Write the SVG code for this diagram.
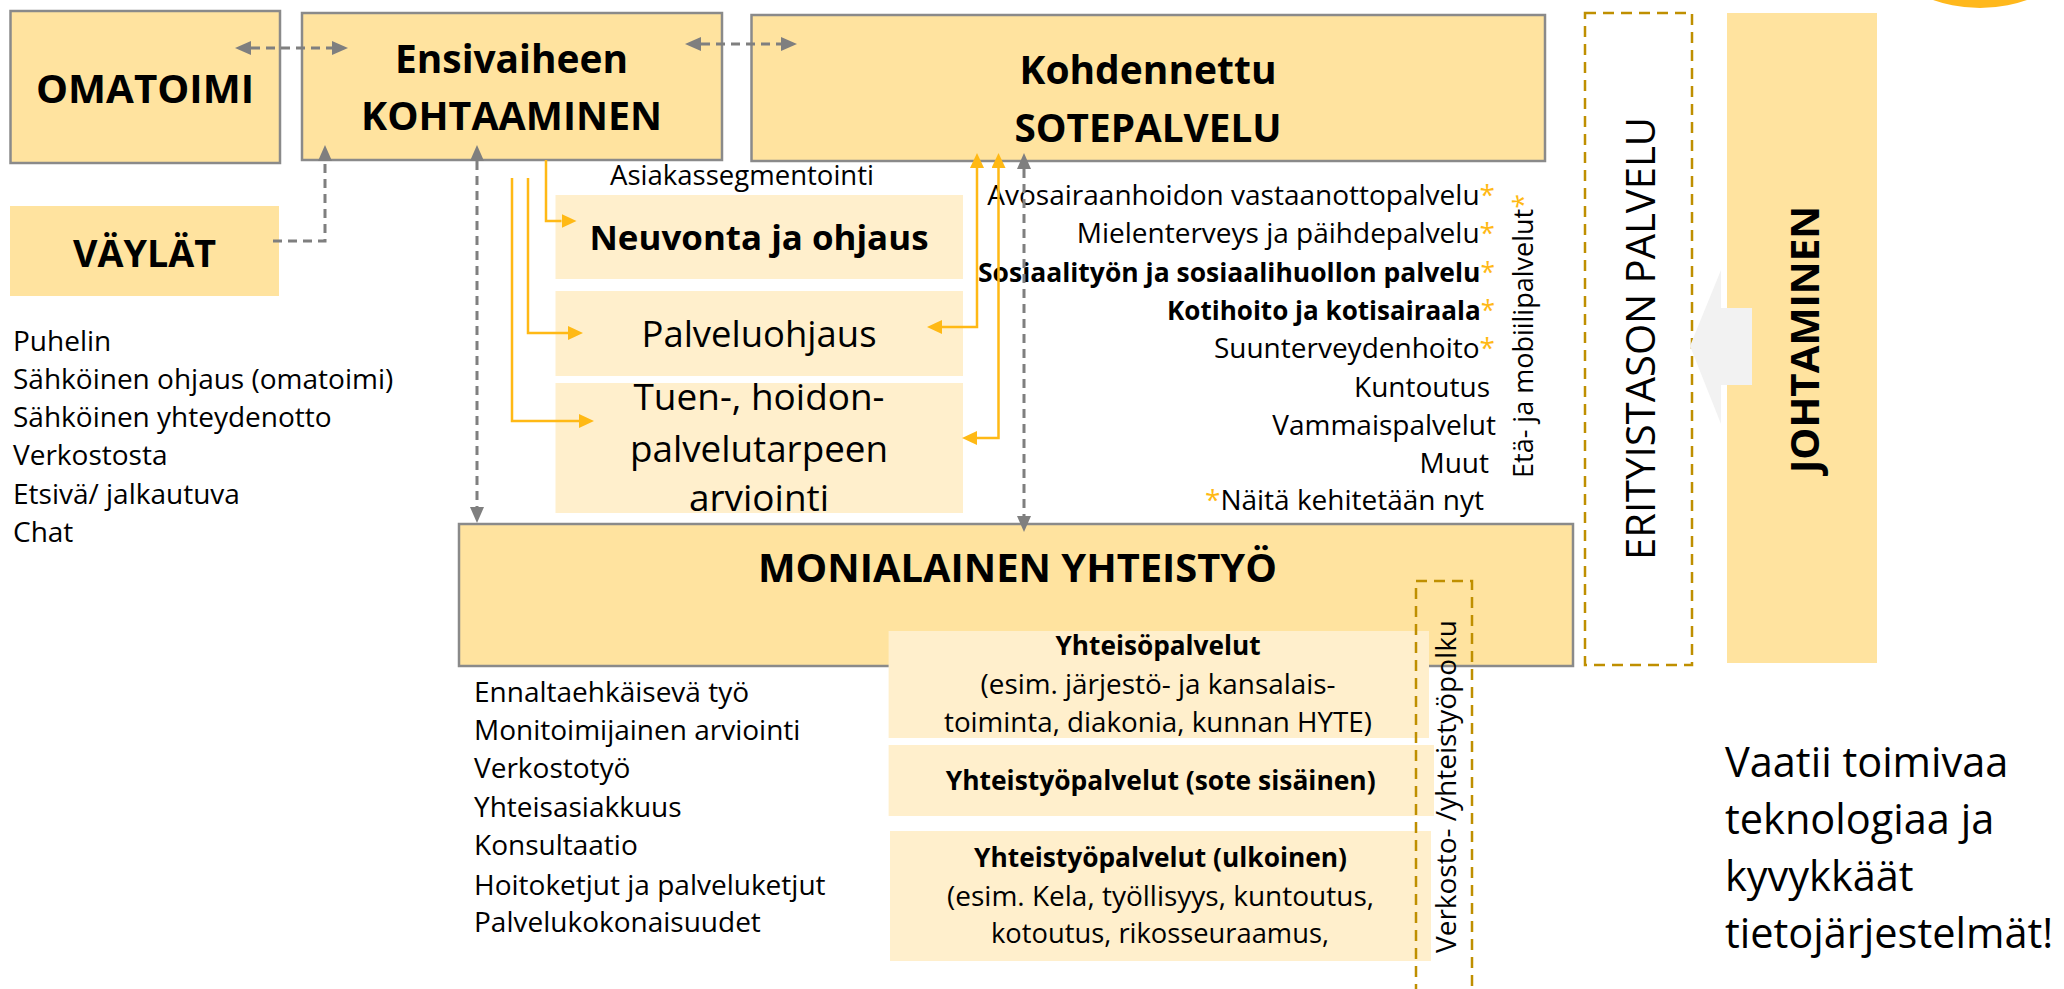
<svg xmlns="http://www.w3.org/2000/svg" width="2064" height="989" viewBox="0 0 2064 989">
<style>
text{font-family:'Open Sans','Liberation Sans',sans-serif;fill:#000}
.b{font-weight:700}
.mid{text-anchor:middle}
.end{text-anchor:end}
.main{fill:#FFE39F;stroke:#8A8A8A;stroke-width:2.5}
.plain{fill:#FFE39F}
.light{fill:#FFEFCC}
.gold{fill:none;stroke:#BF8F00;stroke-width:2.5;stroke-dasharray:11 7}
.gl{fill:none;stroke:#7F7F7F;stroke-width:3;stroke-dasharray:9 6}
.yl{fill:none;stroke:#FFB915;stroke-width:2.5}
.ast{fill:#FFB915}
.t28{font-size:28px}
.t27{font-size:27px}
</style>
<defs>
<marker id="ga" viewBox="0 0 16 14" refX="0" refY="7" markerWidth="16" markerHeight="14" markerUnits="userSpaceOnUse" orient="auto-start-reverse"><path d="M0,0 L16,7 L0,14 Z" fill="#7F7F7F"/></marker>
<marker id="ya" viewBox="0 0 15 14" refX="0" refY="7" markerWidth="15" markerHeight="14" markerUnits="userSpaceOnUse" orient="auto-start-reverse"><path d="M0,0 L15,7 L0,14 Z" fill="#FFB915"/></marker>
</defs>
<rect width="2064" height="989" fill="#fff"/>
<circle cx="1980" cy="-134" r="142" fill="#FFB81C"/>

<g id="omatoimi">
<rect class="main" x="10.5" y="11" width="269.5" height="152"/>
<text class="b mid" x="145" y="103" font-size="40" textLength="218" lengthAdjust="spacingAndGlyphs">OMATOIMI</text>
</g>

<g id="ensivaiheen">
<rect class="main" x="302" y="13" width="420" height="147"/>
<text class="b mid" x="511.5" y="73" font-size="39" textLength="233" lengthAdjust="spacingAndGlyphs">Ensivaiheen</text>
<text class="b mid" x="511.5" y="130" font-size="39" textLength="301" lengthAdjust="spacingAndGlyphs">KOHTAAMINEN</text>
</g>

<g id="kohdennettu">
<rect class="main" x="751.5" y="15" width="793.5" height="146"/>
<text class="b mid" x="1148" y="84" font-size="39" textLength="257" lengthAdjust="spacingAndGlyphs">Kohdennettu</text>
<text class="b mid" x="1148" y="142" font-size="39" textLength="267" lengthAdjust="spacingAndGlyphs">SOTEPALVELU</text>
</g>

<g id="vaylat">
<rect class="plain" x="10" y="206" width="269" height="90"/>
<text class="b mid" x="144.5" y="267" font-size="38" textLength="143" lengthAdjust="spacingAndGlyphs">VÄYLÄT</text>
</g>

<g id="vaylat-list" class="t28">
<text x="13" y="351">Puhelin</text>
<text x="13" y="388.5">Sähköinen ohjaus (omatoimi)</text>
<text x="13" y="427">Sähköinen yhteydenotto</text>
<text x="13" y="465">Verkostosta</text>
<text x="13" y="503.5">Etsivä/ jalkautuva</text>
<text x="13" y="542">Chat</text>
</g>

<g id="asiakassegmentointi">
<text class="mid t28" x="742" y="185" textLength="264" lengthAdjust="spacingAndGlyphs">Asiakassegmentointi</text>
</g>

<g id="neuvonta">
<rect class="light" x="555.5" y="195" width="407.5" height="84"/>
<text class="b mid" x="759" y="250" font-size="34" textLength="339" lengthAdjust="spacingAndGlyphs">Neuvonta ja ohjaus</text>
</g>

<g id="palveluohjaus">
<rect class="light" x="555.5" y="291" width="407.5" height="85"/>
<text class="mid" x="759" y="347" font-size="36" textLength="235" lengthAdjust="spacingAndGlyphs">Palveluohjaus</text>
</g>

<g id="tuen">
<rect class="light" x="555.5" y="383" width="407.5" height="130"/>
<text class="mid" x="759" y="410" font-size="36.5" textLength="251" lengthAdjust="spacingAndGlyphs">Tuen-, hoidon-</text>
<text class="mid" x="759" y="462" font-size="36.5" textLength="258" lengthAdjust="spacingAndGlyphs">palvelutarpeen</text>
<text class="mid" x="759" y="511" font-size="36.5" textLength="140" lengthAdjust="spacingAndGlyphs">arviointi</text>
</g>

<g id="sote-list" class="t28">
<text class="end" x="1495" y="205">Avosairaanhoidon vastaanottopalvelu<tspan class="ast">*</tspan></text>
<text class="end" x="1495" y="243">Mielenterveys ja päihdepalvelu<tspan class="ast">*</tspan></text>
<text class="end b" x="1495" y="282" font-size="27" textLength="517" lengthAdjust="spacingAndGlyphs">Sosiaalityön ja sosiaalihuollon palvelu<tspan class="ast" font-weight="400">*</tspan></text>
<text class="end b" x="1495" y="320" font-size="27" textLength="328" lengthAdjust="spacingAndGlyphs">Kotihoito ja kotisairaala<tspan class="ast" font-weight="400">*</tspan></text>
<text class="end" x="1495" y="358">Suunterveydenhoito<tspan class="ast">*</tspan></text>
<text class="end" x="1490" y="397">Kuntoutus</text>
<text class="end" x="1496" y="435">Vammaispalvelut</text>
<text class="end" x="1489" y="473">Muut</text>
<text class="end" x="1484" y="510"><tspan class="ast">*</tspan>Näitä kehitetään nyt</text>
<text class="t27" transform="translate(1533,478) rotate(-90)">Etä- ja mobiilipalvelut<tspan class="ast">*</tspan></text>
</g>

<g id="erityistason">
<rect class="gold" x="1585" y="13" width="107" height="652"/>
<text class="mid" font-size="40" transform="translate(1655,338.5) rotate(-90)" textLength="443" lengthAdjust="spacingAndGlyphs">ERITYISTASON PALVELU</text>
</g>

<g id="johtaminen">
<rect class="plain" x="1727" y="13" width="150" height="650"/>
<polygon points="1690,346 1721,270 1721,308 1752,308 1752,385 1721,385 1721,424" fill="#F2F2F2"/>
<text class="b mid" font-size="40" transform="translate(1819,339.5) rotate(-90)" textLength="267" lengthAdjust="spacingAndGlyphs">JOHTAMINEN</text>
</g>

<g id="monialainen">
<rect class="main" x="459" y="524" width="1114" height="142"/>
<text class="b mid" x="1017.5" y="582" font-size="40" textLength="519" lengthAdjust="spacingAndGlyphs">MONIALAINEN YHTEISTYÖ</text>
</g>

<g id="monialainen-list" class="t28">
<text x="474" y="701.5">Ennaltaehkäisevä työ</text>
<text x="474" y="740">Monitoimijainen arviointi</text>
<text x="474" y="778">Verkostotyö</text>
<text x="474" y="816.5">Yhteisasiakkuus</text>
<text x="474" y="855">Konsultaatio</text>
<text x="474" y="894.5">Hoitoketjut ja palveluketjut</text>
<text x="474" y="932">Palvelukokonaisuudet</text>
</g>

<g id="yhteisopalvelut">
<rect class="light" x="888.6" y="631" width="540.4" height="107"/>
<text class="b mid" x="1158" y="655" font-size="26" textLength="205" lengthAdjust="spacingAndGlyphs">Yhteisöpalvelut</text>
<text class="mid t27" x="1158" y="694" textLength="355" lengthAdjust="spacingAndGlyphs">(esim. järjestö- ja kansalais-</text>
<text class="mid t27" x="1158" y="731.5" textLength="428" lengthAdjust="spacingAndGlyphs">toiminta, diakonia, kunnan HYTE)</text>
</g>

<g id="yhteistyo-sisainen">
<rect class="light" x="888.6" y="745" width="545.4" height="71"/>
<text class="b mid" x="1160.7" y="790" font-size="26" textLength="430" lengthAdjust="spacingAndGlyphs">Yhteistyöpalvelut (sote sisäinen)</text>
</g>

<g id="yhteistyo-ulkoinen">
<rect class="light" x="890" y="831" width="541" height="130"/>
<text class="b mid" x="1160.5" y="866.5" font-size="26" textLength="373" lengthAdjust="spacingAndGlyphs">Yhteistyöpalvelut (ulkoinen)</text>
<text class="mid t27" x="1160.5" y="906" textLength="427" lengthAdjust="spacingAndGlyphs">(esim. Kela, työllisyys, kuntoutus,</text>
<text class="mid t27" x="1160" y="943" textLength="338" lengthAdjust="spacingAndGlyphs">kotoutus, rikosseuraamus,</text>
</g>

<g id="verkosto">
<path class="gold" d="M1416,995 V581 H1472 V995"/>
<text class="t28" transform="translate(1456,953) rotate(-90)" textLength="333" lengthAdjust="spacingAndGlyphs">Verkosto- /yhteistyöpolku</text>
</g>

<g id="connectors">
<path class="gl" d="M251,48 H332" marker-start="url(#ga)" marker-end="url(#ga)"/>
<path class="gl" d="M701,44 H781" marker-start="url(#ga)" marker-end="url(#ga)"/>
<path class="gl" d="M273,241 H325 V161" marker-end="url(#ga)"/>
<path class="gl" d="M477,161 V507" marker-start="url(#ga)" marker-end="url(#ga)"/>
<path class="gl" d="M1024,169 V516" marker-start="url(#ga)" marker-end="url(#ga)"/>
<path class="yl" d="M546,160 V221 H561.5" marker-end="url(#ya)"/>
<path class="yl" d="M528,178 V333 H568" marker-end="url(#ya)"/>
<path class="yl" d="M512,178 V421 H579" marker-end="url(#ya)"/>
<path class="yl" d="M977,168 V327 H942" marker-start="url(#ya)" marker-end="url(#ya)"/>
<path class="yl" d="M998.5,168 V438 H977" marker-start="url(#ya)" marker-end="url(#ya)"/>
</g>

<g id="note">
<text x="1725" y="777" font-size="41.5">Vaatii toimivaa</text>
<text x="1725" y="834" font-size="41.5">teknologiaa ja</text>
<text x="1725" y="891" font-size="41.5">kyvykkäät</text>
<text x="1725" y="948" font-size="41.5">tietojärjestelmät!</text>
</g>
</svg>
